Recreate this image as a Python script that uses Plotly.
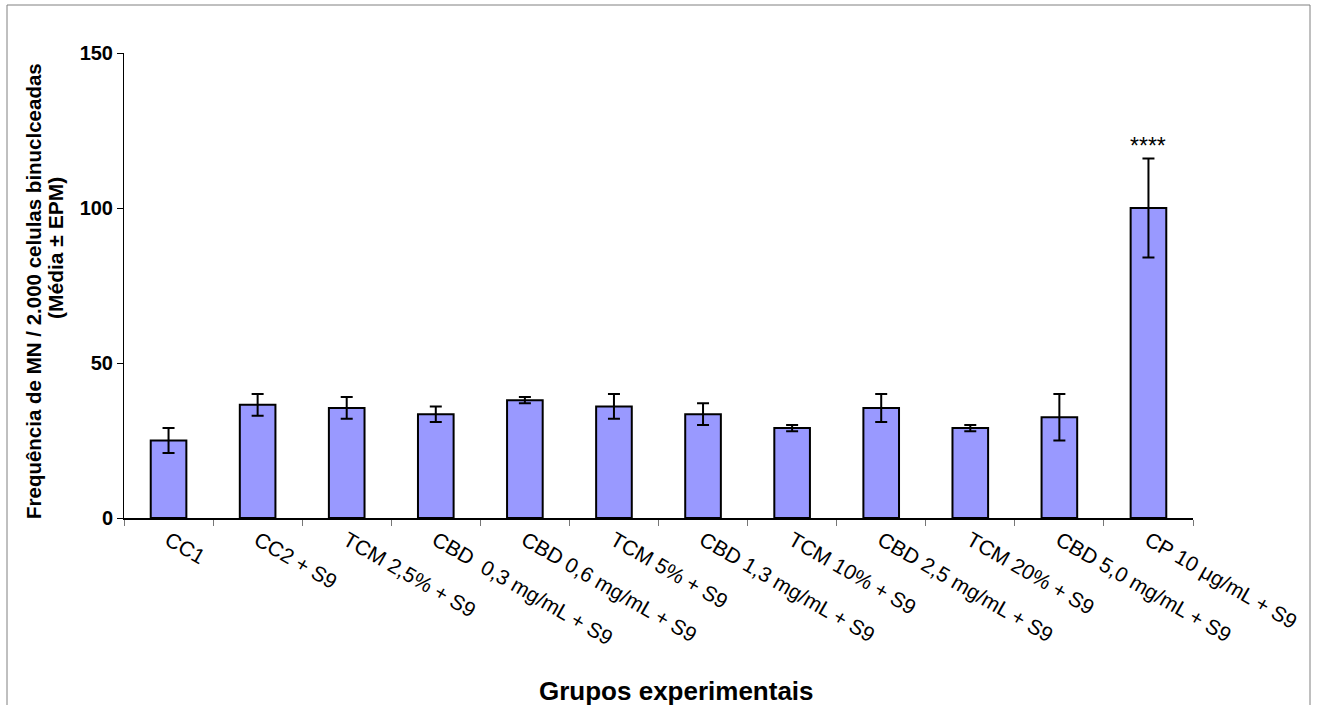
import plotly.graph_objects as go

# Experimental groups and micronucleus frequency (mean ± SEM)
groups = [
    "CC1",
    "CC2 + S9",
    "TCM 2,5% + S9",
    "CBD\u00a0 0,3 mg/mL + S9",
    "CBD 0,6 mg/mL + S9",
    "TCM 5% + S9",
    "CBD 1,3 mg/mL + S9",
    "TCM 10% + S9",
    "CBD 2,5 mg/mL + S9",
    "TCM 20% + S9",
    "CBD 5,0 mg/mL + S9",
    "CP 10 μg/mL + S9",
]
means = [25, 36.5, 35.5, 33.5, 38, 36, 33.5, 29, 35.5, 29, 32.5, 100]
sem = [4, 3.5, 3.5, 2.5, 1, 4, 3.5, 1, 4.5, 1, 7.5, 16]
significance = ["", "", "", "", "", "", "", "", "", "", "", "****"]

FONT = "Liberation Sans, Arial, sans-serif"
W, H = 1318, 705
ML, MR, MT, MB = 124, 125, 53, 187
pw, ph = W - ML - MR, H - MT - MB

def px_x(x):
    return (x - ML) / pw

def px_y(y):
    return (H - MB - y) / ph

fig = go.Figure()
fig.add_trace(go.Bar(
    x=groups,
    y=means,
    width=0.4,
    marker=dict(color="#9999FF", line=dict(color="black", width=2)),
    error_y=dict(type="data", array=sem, visible=True, color="black",
                 thickness=2, width=6),
))

for g, m, e, s in zip(groups, means, sem, significance):
    if s:
        fig.add_annotation(x=g, y=m + e, text=s, showarrow=False,
                           yanchor="bottom", yshift=-3,
                           font=dict(family=FONT, size=23, color="black"))

# Outer frame around the chart
fig.add_shape(type="rect", xref="paper", yref="paper",
              x0=px_x(7), x1=px_x(1310), y0=px_y(720), y1=px_y(5),
              line=dict(color="#808080", width=1), fillcolor="rgba(0,0,0,0)",
              layer="below")

# Axis titles
fig.add_annotation(xref="paper", yref="paper", x=px_x(676), y=px_y(691),
                   text="<b>Grupos experimentais</b>", showarrow=False,
                   xanchor="center", yanchor="middle",
                   font=dict(family=FONT, size=26, color="black"))
fig.add_annotation(xref="paper", yref="paper", x=px_x(33), y=px_y(291),
                   text="<b>Frequência de MN / 2.000 celulas binuclceadas</b>",
                   showarrow=False, textangle=-90,
                   xanchor="center", yanchor="middle",
                   font=dict(family=FONT, size=20.5, color="black"))
fig.add_annotation(xref="paper", yref="paper", x=px_x(56), y=px_y(248),
                   text="<b>(Média ± EPM)</b>",
                   showarrow=False, textangle=-90,
                   xanchor="center", yanchor="middle",
                   font=dict(family=FONT, size=21, color="black"))

fig.update_layout(
    width=W, height=H,
    margin=dict(l=ML, r=MR, t=MT, b=MB),
    plot_bgcolor="white", paper_bgcolor="white",
    showlegend=False,
    font=dict(family=FONT, color="black"),
)
fig.update_xaxes(
    showline=True, linecolor="black", linewidth=2,
    ticks="outside", tickson="boundaries", ticklen=6, tickcolor="#777", tickwidth=1,
    tickangle=30, tickfont=dict(size=21, family=FONT),
    showgrid=False,
)
fig.update_yaxes(
    range=[0, 150], tickvals=[0, 50, 100, 150],
    showline=True, linecolor="black", linewidth=1,
    ticks="outside", ticklen=6, tickcolor="black",
    tickfont=dict(size=20, family=FONT, weight="bold"),
    showgrid=False, zeroline=False,
)

fig.write_html("out.html")
